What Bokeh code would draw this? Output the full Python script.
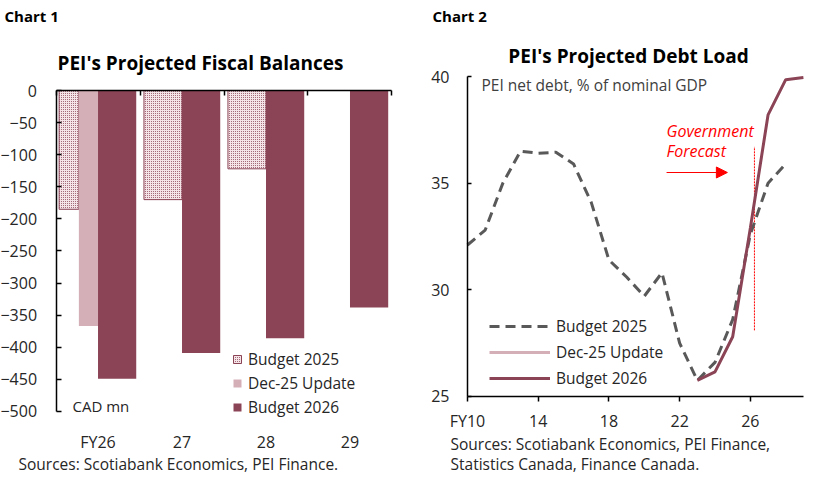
from bokeh.embed import file_html
from bokeh.layouts import row
from bokeh.models import (Arrow, FixedTicker, Label, Legend, LegendItem,
                          LinearAxis, NormalHead, Range1d)
from bokeh.plotting import figure
from bokeh.resources import INLINE

FONT = "Open Sans"
MAROON = "#8b4456"
PINK = "#d4afb7"
GREY = "#595959"
TEXT = "#262626"
W, H = 414, 480

# chart 1: fiscal balances, CAD mn
categories = ["FY26", "27", "28", "29"]
budget_2025 = [-185, -170, -122, None]
dec_25_update = [-367, None, None, None]
budget_2026 = [-449, -409, -386, -338]
balance_ticks = list(range(-500, 1, 50))

# chart 2: net debt, % of nominal GDP
debt_years_2025 = list(range(10, 29))
debt_budget_2025 = [32.1, 32.8, 35.0, 36.5, 36.4, 36.45, 35.9, 34.1, 31.4,
                    30.6, 29.7, 30.8, 27.5, 25.75, 26.6, 28.6, 32.6, 35.0,
                    35.9]
debt_years_2026 = list(range(23, 30))
debt_budget_2026 = [25.75, 26.15, 27.8, 32.9, 38.2, 39.85, 39.95]
debt_years_dec = [26]
debt_dec_25 = [32.9]
debt_ticks = [25, 30, 35, 40]
year_ticks = [10, 14, 18, 22, 26]

forecast_x = 26.23
forecast_y = (28.1, 36.7)
arrow_x = (21.26, 24.7)
arrow_y = 35.5


def add_label(p, text, x, y, size, bold=False, italic=False, color=TEXT,
              align="left"):
    style = "normal"
    if bold:
        style = "bold"
    elif italic:
        style = "italic"
    p.add_layout(Label(x=x, y=y, x_units="screen", y_units="screen",
                       text=text, text_font=FONT, text_font_size=size,
                       text_font_style=style, text_color=color,
                       text_align=align, text_baseline="middle"))


def style_axis(axis):
    axis.axis_line_color = "black"
    axis.axis_line_width = 1.5
    axis.major_tick_line_color = "black"
    axis.major_tick_line_width = 1.5
    axis.minor_tick_line_color = None
    axis.major_label_text_font = FONT
    axis.major_label_text_font_size = "16px"
    axis.major_label_text_color = TEXT


def base_figure(x_range, y_range):
    # the frame fills the whole figure; axes sit at fixed data locations
    p = figure(width=W, height=H, x_range=x_range, y_range=y_range,
               x_axis_location=None, y_axis_location=None,
               output_backend="svg", toolbar_location=None, min_border=0)
    p.grid.visible = False
    p.outline_line_color = None
    return p


def fiscal_chart():
    p = base_figure(Range1d(-0.661, 4.268), Range1d(-607.5, 140.2))

    left_b25, right_b25, top_b25, bot_b25 = [], [], [], []
    left_dec, right_dec, top_dec, bot_dec = [], [], [], []
    left_b26, right_b26, top_b26, bot_b26 = [], [], [], []
    for i, (b25, dec, b26) in enumerate(zip(budget_2025, dec_25_update,
                                            budget_2026)):
        if dec is not None:
            left_b25.append(i + 0.037)
            right_b25.append(i + 0.272)
            left_dec.append(i + 0.272)
            right_dec.append(i + 0.5)
            top_dec.append(0)
            bot_dec.append(dec)
        else:
            left_b25.append(i + 0.047)
            right_b25.append(i + 0.5)
        top_b25.append(0)
        bot_b25.append(b25 if b25 is not None else 0)
        left_b26.append(i + 0.5)
        right_b26.append(i + 0.955)
        top_b26.append(0)
        bot_b26.append(b26)

    r25 = p.quad(left=left_b25, right=right_b25, top=top_b25,
                 bottom=bot_b25, fill_color="#f4e4e8", line_color=MAROON,
                 line_width=1, hatch_pattern="dot", hatch_scale=2,
                 hatch_weight=1, hatch_color=MAROON)
    rdec = p.quad(left=left_dec, right=right_dec, top=top_dec,
                  bottom=bot_dec, fill_color=PINK, line_color=None)
    r26 = p.quad(left=left_b26, right=right_b26, top=top_b26,
                 bottom=bot_b26, fill_color=MAROON, line_color=None)

    yaxis = LinearAxis(ticker=FixedTicker(ticks=balance_ticks),
                       fixed_location=0, bounds=(-500, 0))
    style_axis(yaxis)
    yaxis.major_tick_in = 5
    yaxis.major_tick_out = 0
    yaxis.major_label_standoff = 19
    p.add_layout(yaxis, "left")

    top_axis = LinearAxis(ticker=FixedTicker(ticks=[0, 1, 2, 3, 4]),
                          fixed_location=0, bounds=(0, 4))
    style_axis(top_axis)
    top_axis.major_tick_in = 5
    top_axis.major_tick_out = 0
    top_axis.major_label_text_color = None
    p.add_layout(top_axis, "above")

    centers = [i + 0.5 for i in range(len(categories))]
    bottom_axis = LinearAxis(ticker=FixedTicker(ticks=centers),
                             fixed_location=-500)
    style_axis(bottom_axis)
    bottom_axis.axis_line_color = None
    bottom_axis.major_tick_line_color = None
    bottom_axis.major_label_standoff = 14
    bottom_axis.major_label_overrides = {c: lab for c, lab in
                                         zip(centers, categories)}
    p.add_layout(bottom_axis, "below")

    legend = Legend(items=[LegendItem(label="Budget 2025", renderers=[r25]),
                           LegendItem(label="Dec-25 Update",
                                      renderers=[rdec]),
                           LegendItem(label="Budget 2026", renderers=[r26])],
                    location=(232, 62), padding=0, margin=0, spacing=2,
                    glyph_width=10, glyph_height=10, label_height=20,
                    label_standoff=6, background_fill_alpha=0,
                    border_line_color=None, label_text_font=FONT,
                    label_text_font_size="15.5px", label_text_color=TEXT)
    p.add_layout(legend)

    add_label(p, "Chart 1", 4, 465, "15px", bold=True, color="black")
    add_label(p, "PEI's Projected Fiscal Balances", 200, 418, "19px",
              bold=True, color="black", align="center")
    add_label(p, "CAD mn", 72, 75, "15px")
    add_label(p, "Sources: Scotiabank Economics, PEI Finance.", 18, 17,
              "15.5px")
    return p


def debt_chart():
    p = base_figure(Range1d(7.002, 30.42), Range1d(21.06, 43.563))

    p.segment(x0=[forecast_x], y0=[forecast_y[0]], x1=[forecast_x],
              y1=[forecast_y[1]], line_color="red", line_width=1,
              line_dash="2 1")

    rdec = p.line(debt_years_dec, debt_dec_25, line_color=PINK,
                  line_width=3)
    r25 = p.line(debt_years_2025, debt_budget_2025, line_color=GREY,
                 line_width=3, line_dash="10 6")
    r26 = p.line(debt_years_2026, debt_budget_2026, line_color=MAROON,
                 line_width=3)

    p.add_layout(Arrow(end=NormalHead(size=11, fill_color="red",
                                      line_color="red"),
                       x_start=arrow_x[0], y_start=arrow_y,
                       x_end=arrow_x[1], y_end=arrow_y,
                       line_color="red", line_width=1.2))

    yaxis = LinearAxis(ticker=FixedTicker(ticks=debt_ticks),
                       fixed_location=10, bounds=(25, 40))
    style_axis(yaxis)
    yaxis.major_tick_in = 4
    yaxis.major_tick_out = 0
    yaxis.major_label_standoff = 18
    p.add_layout(yaxis, "left")

    xaxis = LinearAxis(ticker=FixedTicker(ticks=year_ticks),
                       fixed_location=25, bounds=(10, 29))
    style_axis(xaxis)
    xaxis.major_tick_in = 0
    xaxis.major_tick_out = 5
    xaxis.major_label_standoff = 9
    xaxis.major_label_overrides = {10: "FY10"}
    p.add_layout(xaxis, "below")

    legend = Legend(items=[LegendItem(label="Budget 2025", renderers=[r25]),
                           LegendItem(label="Dec-25 Update",
                                      renderers=[rdec]),
                           LegendItem(label="Budget 2026", renderers=[r26])],
                    location=(75, 91), padding=0, margin=0, spacing=4,
                    glyph_width=61, glyph_height=20, label_height=20,
                    label_standoff=6, background_fill_alpha=0,
                    border_line_color=None, label_text_font=FONT,
                    label_text_font_size="15.5px", label_text_color=TEXT)
    p.add_layout(legend)

    add_label(p, "Chart 2", 18, 465, "15px", bold=True, color="black")
    add_label(p, "PEI's Projected Debt Load", 214, 425, "19px", bold=True,
              color="black", align="center")
    add_label(p, "PEI net debt, % of nominal GDP", 67, 396, "15.5px",
              color="#404040")
    add_label(p, "Government", 252, 350, "16px", italic=True, color="red")
    add_label(p, "Forecast", 252, 330, "16px", italic=True, color="red")
    add_label(p, "Sources: Scotiabank Economics, PEI Finance,", 36, 37,
              "15.5px")
    add_label(p, "Statistics Canada, Finance Canada.", 36, 17, "15.5px")
    return p


layout = row(fiscal_chart(), debt_chart())
open("out.html", "w").write(file_html(layout, INLINE))
